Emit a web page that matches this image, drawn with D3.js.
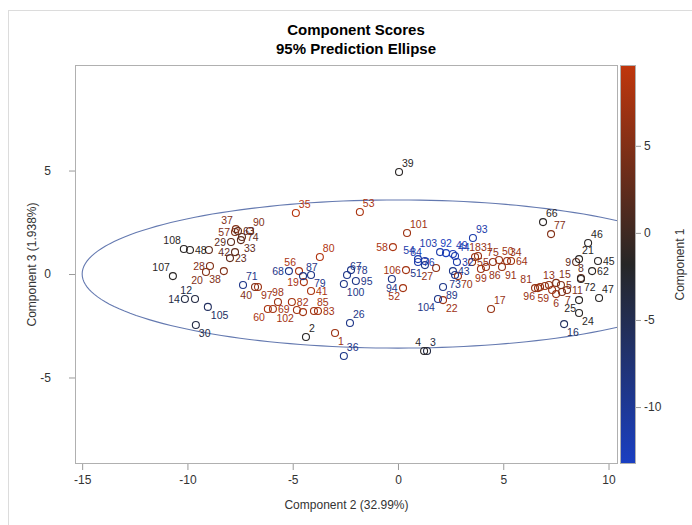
<!DOCTYPE html>
<html>
<head>
<meta charset="utf-8">
<script src="https://cdn.jsdelivr.net/npm/d3@7"></script>
<style>
body { margin: 0; background: #fff; }
text { font-family: "Liberation Sans", Arial, sans-serif; }
</style>
</head>
<body>
<div id="chart"></div>
<script>
// observation numbers
var ids = [1,2,3,4,5,6,7,8,9,10,11,12,13,14,15,16,17,18,19,20,21,22,23,24,25,26,27,28,29,30,
  31,32,33,34,35,36,37,38,39,40,41,42,43,44,45,46,47,48,49,50,51,52,53,54,55,56,57,58,59,60,
  61,62,63,64,65,66,67,68,69,70,71,72,73,74,75,76,77,78,79,80,81,82,83,84,85,86,87,88,89,90,
  91,92,93,94,95,96,97,98,99,100,101,102,103,104,105,106,107,108];
// Component 2 scores (x)
var comp2 = [-2.99,-4.37,1.38,1.24,7.74,7.51,7.79,8.69,8.46,-8.98,8.03,-9.64,7.17,-10.12,7.51,7.89,4.42,3.66,-4.47,-9.12,
  8.60,2.14,-7.98,8.60,8.60,-2.28,1.81,-8.93,-7.93,-9.60,3.80,2.80,-7.46,5.18,-4.85,-2.57,-7.70,-8.27,0.05,-6.79,
  -4.13,-7.74,2.61,2.71,9.50,9.03,9.55,-9.88,2.61,4.80,1.28,0.24,-1.81,0.95,3.52,-4.70,-7.74,-0.24,7.32,-6.18,
  6.98,9.22,-7.60,5.37,6.75,6.89,-2.42,-5.18,-5.94,2.85,-7.36,8.69,2.71,-7.41,4.51,0.95,7.27,-2.23,-4.13,-3.71,
  6.51,-5.04,-3.80,1.28,-3.99,4.18,-4.51,-4.51,2.14,-7.03,4.94,2.28,3.56,-0.29,-2.00,6.65,-6.65,-5.70,3.94,-2.57,
  0.43,-4.80,2.00,1.90,-9.03,0.38,-10.69,-10.17];
// Component 3 scores (y)
var comp3 = [-2.85,-3.04,-3.72,-3.72,-0.53,-0.97,-0.87,-0.19,0.58,1.16,-0.77,-1.21,-0.53,-1.21,-0.43,-2.42,-1.69,0.82,-0.39,0.10,
  0.72,-1.26,0.77,-1.88,-1.26,-2.37,0.29,0.39,1.55,-2.46,0.87,0.58,1.64,0.63,2.95,-3.96,2.17,0.14,4.93,-0.63,
  -0.82,1.06,0.14,0.87,0.63,1.50,-1.16,1.16,0.97,0.68,0.43,-0.68,3.00,0.72,0.58,0.14,2.03,1.30,-0.77,-1.69,
  -0.58,0.14,2.08,0.63,-0.63,2.51,-0.05,0.14,-1.69,-0.10,-0.53,-0.24,-0.05,1.79,0.58,0.58,1.93,0.19,-0.05,0.82,
  -0.68,-1.35,-1.79,0.63,-1.79,0.34,-0.10,-1.84,-0.63,2.08,0.34,1.01,1.74,-0.24,-0.34,-0.68,-0.63,-1.35,0.24,-0.48,
  1.98,-1.74,1.06,-1.21,-1.59,0.19,-0.10,1.21];
// Component 1 scores (colour)
var comp1 = [7,-1.5,-4,-1.5,5,6.5,5,2.5,2.5,2.5,5,-4,6,-4,5,-6,6.5,6.5,8,5,
  -1.5,7,2.5,-1.5,-1.5,-9,6,5,2.5,-4,6.5,-11.5,2.5,6.5,9,-9,5,5,-1.5,5,
  8,2.5,-9,-11.5,-1.5,-1.5,-1.5,-1.5,-12.5,7,-9,7.5,8,-11.5,6.5,8,5,8,7,8,
  6.5,-1.5,2.5,7,6.5,-1.5,-9,-9,7.5,6.5,-9,-1.5,-9,2.5,6.5,-11.5,5,-9,-9,8.5,
  6.5,7.5,7.5,-11.5,7.5,6.5,-9,7.5,-9,5,6.5,-13,-11.5,-9,-9,6.5,7,7,7,-9,
  7,7.5,-11.5,-9,-6,7.5,-1.5,-1.5];
// where each label sits around its marker ("" = label suppressed)
var labelPos = ["se","ne","ne","nw","e","s","se","n","w","","e","nw","n","w","ne","se","ne","n","w","sw",
  "ne","se","e","se","sw","ne","sw","w","w","se","ne","e","se","ne","ne","ne","nw","sw","ne","sw",
  "e","w","e","ne","e","ne","ne","e","ne","ne","sw","sw","ne","nw","e","nw","w","w","sw","sw",
  "","e","e","e","","ne","ne","w","e","se","ne","se","s","e","n","e","ne","e","se","ne",
  "nw","e","e","nw","ne","se","ne","","se","ne","se","n","ne","s","e","sw","se","n","s","se",
  "ne","sw","nw","sw","se","w","nw","nw"];

var xTicks = [-15, -10, -5, 0, 5, 10];
var yTicks = [-5, 0, 5];
var colorTicks = [-10, -5, 0, 5];
var ellipseRadii = [15.0, 3.58];

var W = 692, H = 525;
var pL = 75, pR = 618, pT = 65, pB = 464;

var svg = d3.select("#chart").append("svg")
    .attr("width", W)
    .attr("height", H);

// outer frame of the graph
svg.append("rect").attr("x", 8.5).attr("y", 10.5).attr("width", 700).attr("height", 530)
    .attr("fill", "#fff").attr("stroke", "#dcdcdc");

var x = d3.scaleLinear().domain([-15.34, 10.45]).range([pL, pR]);
var y = d3.scaleLinear().domain([-9.18, 10.1]).range([pB, pT]);
var cmin = -13.27, cmax = 9.64;
var color = d3.scaleLinear()
    .domain([cmin, (cmin + cmax) / 2, cmax])
    .range(["#1a3fc2", "#262626", "#c0360c"]);
var cy = d3.scaleLinear().domain([cmin, cmax]).range([pB, pT]);
var fmt = function(d) { return String(d); };   // plain hyphen minus like the original

// titles
svg.append("text").attr("x", 356).attr("y", 35).attr("text-anchor", "middle")
    .attr("font-size", "15px").attr("font-weight", "bold").attr("fill", "#000")
    .text("Component Scores");
svg.append("text").attr("x", 356).attr("y", 54).attr("text-anchor", "middle")
    .attr("font-size", "15px").attr("font-weight", "bold").attr("fill", "#000")
    .text("95% Prediction Ellipse");

// axes
var xAxis = svg.append("g").attr("transform", "translate(0," + pB + ")")
    .call(d3.axisBottom(x).tickValues(xTicks).tickFormat(fmt).tickSize(6).tickPadding(5));
var yAxis = svg.append("g").attr("transform", "translate(" + pL + ",0)")
    .call(d3.axisLeft(y).tickValues(yTicks).tickFormat(fmt).tickSize(6).tickPadding(18));
[xAxis, yAxis].forEach(function(g) {
    g.select(".domain").remove();
    g.selectAll("line").attr("stroke", "#9a9a9a");
    g.selectAll("text").attr("font-size", "12px").attr("fill", "#333")
        .style("font-family", "'Liberation Sans', Arial, sans-serif");
});

svg.append("text").attr("x", (pL + pR) / 2).attr("y", 509).attr("text-anchor", "middle")
    .attr("font-size", "12px").attr("fill", "#333").text("Component 2 (32.99%)");
svg.append("text").attr("transform", "translate(36," + (pT + pB) / 2 + ") rotate(-90)")
    .attr("text-anchor", "middle").attr("font-size", "12px").attr("fill", "#333")
    .text("Component 3 (1.938%)");

// clip for the plot area
svg.append("clipPath").attr("id", "plotclip").append("rect")
    .attr("x", pL).attr("y", pT).attr("width", pR - pL).attr("height", pB - pT);

// prediction ellipse
var ell = d3.range(0, 361, 2).map(function(a) {
    var t = a * Math.PI / 180;
    return [ellipseRadii[0] * Math.cos(t), ellipseRadii[1] * Math.sin(t)];
});
svg.append("path")
    .attr("clip-path", "url(#plotclip)")
    .attr("d", d3.line().x(function(d) { return x(d[0]); }).y(function(d) { return y(d[1]); })(ell))
    .attr("fill", "none").attr("stroke", "#6479b0").attr("stroke-width", 1.1);

var pts = ids.map(function(id, i) {
    return { id: id, x: comp2[i], y: comp3[i], c: comp1[i], pos: labelPos[i] };
});

// label offsets around the marker
var off = {
    ne: [3, -5, "start"], e: [5, 4, "start"], se: [3, 12, "start"], s: [0, 13, "middle"],
    sw: [-3, 12, "end"], w: [-5, 4, "end"], nw: [-3, -5, "end"], n: [0, -6, "middle"]
};

var g = svg.append("g").attr("clip-path", "url(#plotclip)");
g.selectAll("circle").data(pts).enter().append("circle")
    .attr("cx", function(d) { return x(d.x); })
    .attr("cy", function(d) { return y(d.y); })
    .attr("r", 3.5)
    .attr("fill", "none")
    .attr("stroke", function(d) { return color(d.c); })
    .attr("stroke-width", 1.1);

g.selectAll("text").data(pts.filter(function(d) { return d.pos; })).enter().append("text")
    .attr("x", function(d) { return x(d.x) + off[d.pos][0]; })
    .attr("y", function(d) { return y(d.y) + off[d.pos][1]; })
    .attr("text-anchor", function(d) { return off[d.pos][2]; })
    .attr("font-size", "10.5px")
    .attr("fill", function(d) { return color(d.c); })
    .text(function(d) { return d.id; });

// plot frame
svg.append("rect").attr("x", pL + 0.5).attr("y", pT + 0.5)
    .attr("width", pR - pL - 1).attr("height", pB - pT - 1)
    .attr("fill", "none").attr("stroke", "#b0b0b0");

// colour bar
var grad = svg.append("defs").append("linearGradient").attr("id", "cbar")
    .attr("x1", "0").attr("y1", "1").attr("x2", "0").attr("y2", "0");
[0, 0.25, 0.5, 0.75, 1].forEach(function(t) {
    grad.append("stop").attr("offset", t)
        .attr("stop-color", color(cmin + t * (cmax - cmin)));
});
svg.append("rect").attr("x", 620.5).attr("y", pT + 0.5).attr("width", 15).attr("height", pB - pT - 1)
    .attr("fill", "url(#cbar)").attr("stroke", "#b0b0b0");
var cAxis = svg.append("g").attr("transform", "translate(636,0)")
    .call(d3.axisRight(cy).tickValues(colorTicks).tickFormat(fmt).tickSize(5).tickPadding(3));
cAxis.select(".domain").remove();
cAxis.selectAll("line").attr("stroke", "#9a9a9a");
cAxis.selectAll("text").attr("font-size", "12px").attr("fill", "#333")
    .style("font-family", "'Liberation Sans', Arial, sans-serif");
svg.append("text").attr("transform", "translate(684," + (pT + pB) / 2 + ") rotate(-90)")
    .attr("text-anchor", "middle").attr("font-size", "12px").attr("fill", "#333")
    .text("Component 1");
</script>
</body>
</html>
